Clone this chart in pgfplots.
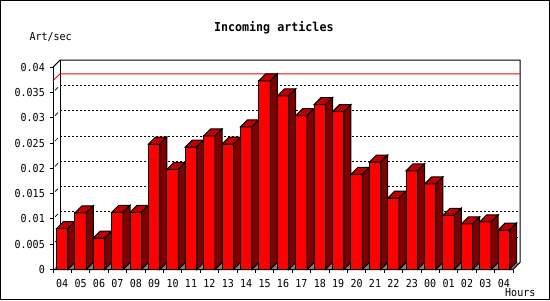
\documentclass[border=0pt]{standalone}
\usepackage{pgfplots}
\pgfplotsset{compat=1.18}
\usepackage{fontspec}
\newfontfamily\gdfam[FakeStretch=0.91]{DejaVu Sans Mono}
\newfontfamily\gdbfam[FakeStretch=0.95]{DejaVu Sans Mono}
\newcommand\gd{\gdfam\fontsize{11pt}{13pt}\selectfont}
\newcommand\gdb{\gdbfam\bfseries\fontsize{12.3pt}{14pt}\selectfont}
\definecolor{bfront}{RGB}{255,0,0}
\definecolor{btop}{RGB}{192,0,0}
\definecolor{bside}{RGB}{128,0,0}
\definecolor{floorgray}{RGB}{128,128,128}
\pgfdeclareplotmark{empty3d}{}
\pgfplotsset{
  bar3d/.style={
    scatter, only marks, mark=empty3d, forget plot,
    visualization depends on={rawy \as \rawy},
    scatter/@pre marker code/.code={%
      \begingroup
      \pgfkeys{/pgf/fpu=false}%
      \pgfmathsetmacro\H{\rawy*5060}%
      \pgfmathsetmacro\Hs{7-\H}%
      \path[fill=bfront,draw=black,line width=1pt] (-5.7pt,-\H pt) rectangle (5.7pt,0pt);
      \path[fill=btop,draw=black,line width=1pt] (-5.7pt,0pt) -- (1.3pt,7pt) -- (12.7pt,7pt) -- (5.7pt,0pt) -- cycle;
      \path[fill=bside,draw=black,line width=1pt] (5.7pt,0pt) -- (12.7pt,7pt) -- (12.7pt,\Hs pt) -- (5.7pt,-\H pt) -- cycle;
      \endgroup
    },
    scatter/@post marker code/.code={},
  }
}
\begin{document}
\begin{tikzpicture}
\begin{axis}[
  x=18.4pt, y=5060pt,
  xmin=-0.5, xmax=24.5, ymin=0, ymax=0.04,
  axis x line*=bottom, axis y line*=left,
  axis line style={-, line width=1pt, black},
  clip=false,
  tick align=outside, major tick length=3pt,
  tick style={line width=1pt, black},
  xtick={-0.5,0.5,...,24.5},
  x tick label as interval,
  xticklabels={04,05,06,07,08,09,10,11,12,13,14,15,16,17,18,19,20,21,22,23,00,01,02,03,04},
  ytick={0,0.005,0.01,0.015,0.02,0.025,0.03,0.035,0.04},
  scaled y ticks=false,
  yticklabel style={/pgf/number format/fixed, /pgf/number format/precision=3,
    /pgf/number format/assume math mode=true},
  ticklabel style={font=\gd},
  yticklabel style={anchor=east, inner sep=0pt, xshift=-5pt},
  xticklabel style={anchor=base, inner sep=0pt, yshift=-14.5pt},
]
% frame
\draw[line width=1pt] (axis cs:-3.3533,0.053162) rectangle (axis cs:26.4837,-0.0059289);
% back wall and left wall edges
\draw[line width=1pt] (axis cs:-0.5,0.04) -- (axis cs:-0.11957,0.0413834) -- (axis cs:24.88043,0.0413834) -- (axis cs:24.88043,0.0013834);
\draw[line width=1pt] (axis cs:-0.11957,0.0413834) -- (axis cs:-0.11957,0.0013834);
% dotted grid on back wall
\draw[line width=1pt, dash pattern=on 2pt off 2pt] (axis cs:-0.11957,0.0063834) -- (axis cs:24.88043,0.0063834);
\draw[line width=1pt, dash pattern=on 2pt off 2pt] (axis cs:-0.11957,0.0113834) -- (axis cs:24.88043,0.0113834);
\draw[line width=1pt, dash pattern=on 2pt off 2pt] (axis cs:-0.11957,0.0163834) -- (axis cs:24.88043,0.0163834);
\draw[line width=1pt, dash pattern=on 2pt off 2pt] (axis cs:-0.11957,0.0213834) -- (axis cs:24.88043,0.0213834);
\draw[line width=1pt, dash pattern=on 2pt off 2pt] (axis cs:-0.11957,0.0263834) -- (axis cs:24.88043,0.0263834);
\draw[line width=1pt, dash pattern=on 2pt off 2pt] (axis cs:-0.11957,0.0313834) -- (axis cs:24.88043,0.0313834);
\draw[line width=1pt, dash pattern=on 2pt off 2pt] (axis cs:-0.11957,0.0363834) -- (axis cs:24.88043,0.0363834);
% tick connectors on left wall
\draw[line width=0.7pt] (axis cs:-0.3913,0.005395) -- (axis cs:-0.2283,0.005988);
\draw[line width=0.7pt] (axis cs:-0.3913,0.010395) -- (axis cs:-0.2283,0.010988);
\draw[line width=0.7pt] (axis cs:-0.3913,0.015395) -- (axis cs:-0.2283,0.015988);
\draw[line width=0.7pt] (axis cs:-0.3913,0.020395) -- (axis cs:-0.2283,0.020988);
\draw[line width=0.7pt] (axis cs:-0.3913,0.025395) -- (axis cs:-0.2283,0.025988);
\draw[line width=0.7pt] (axis cs:-0.3913,0.030395) -- (axis cs:-0.2283,0.030988);
\draw[line width=0.7pt] (axis cs:-0.3913,0.035395) -- (axis cs:-0.2283,0.035988);
% floor
\fill[floorgray] (axis cs:-0.5,0) -- (axis cs:24.5,0) -- (axis cs:24.88043,0.0013834) -- (axis cs:-0.11957,0.0013834) -- cycle;
\draw[line width=1pt] (axis cs:-0.5,0) -- (axis cs:24.5,0) -- (axis cs:24.88043,0.0013834);
% maximum line
\addplot[red, line width=1pt, forget plot] coordinates {(-0.5,0.0373) (-0.11957,0.0386834) (24.88043,0.0386834)};
% bars
\addplot[bar3d] coordinates {
(0,0.0081) (1,0.0112) (2,0.0062) (3,0.0113) (4,0.0113) (5,0.0248) (6,0.0198)
(7,0.0242) (8,0.0264) (9,0.0248) (10,0.0282) (11,0.0373) (12,0.0343) (13,0.0304)
(14,0.0326) (15,0.0312) (16,0.0188) (17,0.0212) (18,0.0141) (19,0.0195) (20,0.0169)
(21,0.0107) (22,0.0090) (23,0.0094) (24,0.0078)};
% texts
\node[font=\gdb, anchor=base] at (axis cs:11.5,0.04694) {Incoming articles};
\node[font=\gd, anchor=base west, inner sep=0pt] at (axis cs:-1.788,0.04516) {Art/sec};
\node[font=\gd, anchor=base west, inner sep=0pt] at (axis cs:24.065,-0.005237) {Hours};
\end{axis}
\end{tikzpicture}
\end{document}
